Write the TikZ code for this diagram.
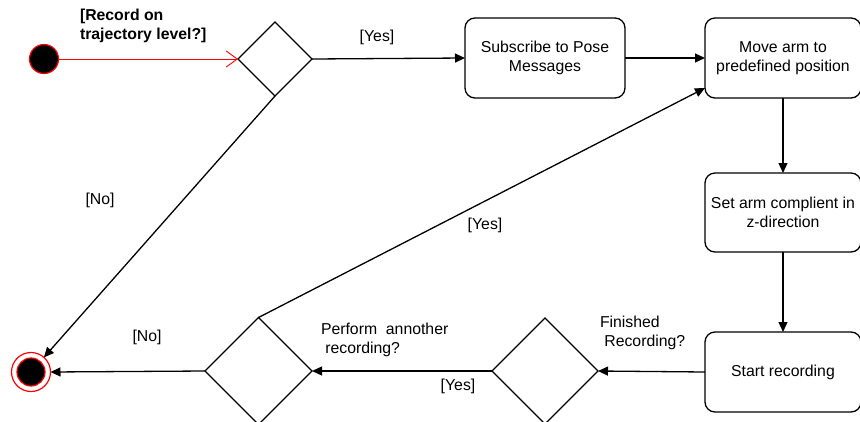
\documentclass[tikz,border=0pt]{standalone}
\usepackage{fontspec}
\setmainfont{Liberation Sans}
\usetikzlibrary{arrows.meta,shapes.geometric}
\begin{document}
\begin{tikzpicture}[x=1pt,y=-1pt,
  font=\fontsize{15.8}{19}\selectfont,
  every node/.style={inner sep=0pt,outer sep=0pt},
  act/.style={draw,line width=1.3pt,rounded corners=10pt,minimum width=154pt,minimum height=80pt,align=center},
  dec/.style={draw,line width=1.3pt,diamond,aspect=1},
  flow/.style={line width=1.3pt,-{Triangle[length=10pt,width=9pt]}},
  lbl/.style={align=left}
]
\useasboundingbox (0,0) rectangle (860,421);
\node[circle,fill=black,draw=red,line width=1.2pt,minimum size=29pt] (start) at (44,59) {};
\node[dec,minimum size=74pt] (d1) at (275,59) {};
\node[act,minimum width=160pt] (b1) at (545,58) {Subscribe to Pose\\Messages};
\node[act,minimum width=156pt] (b2) at (783,58) {Move arm to\\predefined position};
\node[act,minimum width=156pt,minimum height=79pt] (b3) at (783,212.5) {Set arm complient in\\z-direction};
\node[act,minimum width=156pt] (b4) at (783,372) {Start recording};
\node[dec,minimum size=106pt] (d3) at (545,371) {};
\node[dec,minimum size=107pt] (d2) at (258.5,371) {};
\node[circle,draw=red,line width=1.2pt,minimum size=39pt] (end) at (31,372) {};
\node[circle,fill=black,draw=red,line width=1.2pt,minimum size=28pt] (endin) at (31,372) {};
\coordinate (b2in) at (705,88);

\draw[red,line width=0.9pt,-{Straight Barb[length=11pt,width=16pt,line width=0.9pt]}] (start) -- (d1.west);
\draw[flow] (d1.east) -- (b1.west);
\draw[flow] (b1.east) -- (b2.west);
\draw[flow] (b2.south) -- (b3.north);
\draw[flow] (b3.south) -- (b4.north);
\draw[flow] (b4.west) -- (d3.east);
\draw[flow] (d3.west) -- (d2.east);
\draw[flow] (d2.west) -- (end.east);
\draw[flow] (d2.north) -- (b2in);
\draw[flow] (d1.south) -- (end);

\node[lbl,font=\fontsize{15.8}{19}\selectfont\bfseries,anchor=west] (q1) at (80,26) {[Record on\\trajectory level?]};
\node (y1) at (377,37) {[Yes]};
\node (n1) at (100,200) {[No]};
\node (y2) at (485,225) {[Yes]};
\node (n2) at (147,337) {[No]};
\node[lbl,anchor=west] (q2) at (321,340) {Perform\ \ annother\\\ recording?};
\node (y3) at (458,386) {[Yes]};
\node[lbl,anchor=west] (q3) at (600,333) {Finished\\\ Recording?};
\end{tikzpicture}
\end{document}
